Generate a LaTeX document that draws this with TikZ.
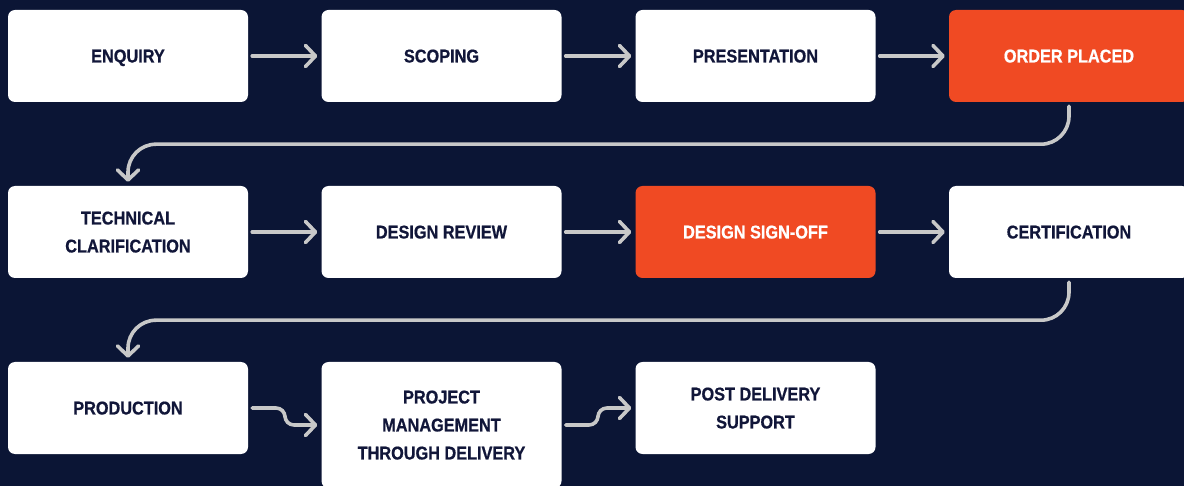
\documentclass[tikz,border=0pt]{standalone}
\usepackage{fontspec}
\newfontfamily\boxfont{Liberation Sans}[FakeStretch=0.88, FakeBold=0.7]
\usetikzlibrary{arrows.meta}
\definecolor{navybg}{HTML}{0B1535}
\definecolor{navytext}{HTML}{111639}
\definecolor{orangebox}{HTML}{F04A23}
\definecolor{arrowgrey}{HTML}{C8C8C8}
\begin{document}
\begin{tikzpicture}[x=1pt, y=-1pt,
	stage/.style={fill=white, text=navytext, rounded corners=7pt, minimum width=240pt, minimum height=92pt,
		align=center, inner sep=0pt, text depth=0pt, font=\boxfont\bfseries\fontsize{18.5}{28}\selectfont},
	hot/.style={stage, fill=orangebox, text=white},
	flow/.style={draw=arrowgrey, line width=3.6pt, line cap=round,
		-{Straight Barb[length=10pt, width=21pt, line cap=round, line join=round]},
		shorten <=4pt, shorten >=4pt}]
	\useasboundingbox (0,0) rectangle (1184,486);
	\fill[navybg] (0,0) rectangle (1184,486);
	
	% first row
	\node[stage] (enquiry) at (128,56) {ENQUIRY};
	\node[stage] (scoping) at (441.5,56) {SCOPING};
	\node[stage] (presentation) at (755.5,56) {PRESENTATION};
	\node[hot] (orderplaced) at (1069,56) {ORDER PLACED};
	
	% second row
	\node[stage] (techclar) at (128,232) {TECHNICAL\\CLARIFICATION};
	\node[stage] (designreview) at (441.5,232) {DESIGN REVIEW};
	\node[hot] (signoff) at (755.5,232) {DESIGN SIGN-OFF};
	\node[stage] (certification) at (1069,232) {CERTIFICATION};
	
	% third row
	\node[stage] (production) at (128,408) {PRODUCTION};
	\node[stage, minimum height=126pt] (projmgmt) at (441.5,425) {PROJECT\\MANAGEMENT\\THROUGH DELIVERY};
	\node[stage] (postdelivery) at (755.5,408) {POST DELIVERY\\SUPPORT};
	
	\draw[flow] (enquiry) -- (scoping);
	\draw[flow] (scoping) -- (presentation);
	\draw[flow] (presentation) -- (orderplaced);
	\draw[flow, rounded corners=28pt] (orderplaced.south) -- ++(0,42) -| (techclar.north);
	
	\draw[flow] (techclar) -- (designreview);
	\draw[flow] (designreview) -- (signoff);
	\draw[flow] (signoff) -- (certification);
	\draw[flow, rounded corners=28pt] (certification.south) -- ++(0,42) -| (production.north);
	
	\draw[flow, rounded corners=9pt] (production.east) -- (285,408) -- (285,425) -- (projmgmt.west);
	\draw[flow, rounded corners=9pt] (projmgmt.east) -- (598,425) -- (598,408) -- (postdelivery.west);
\end{tikzpicture}
\end{document}
